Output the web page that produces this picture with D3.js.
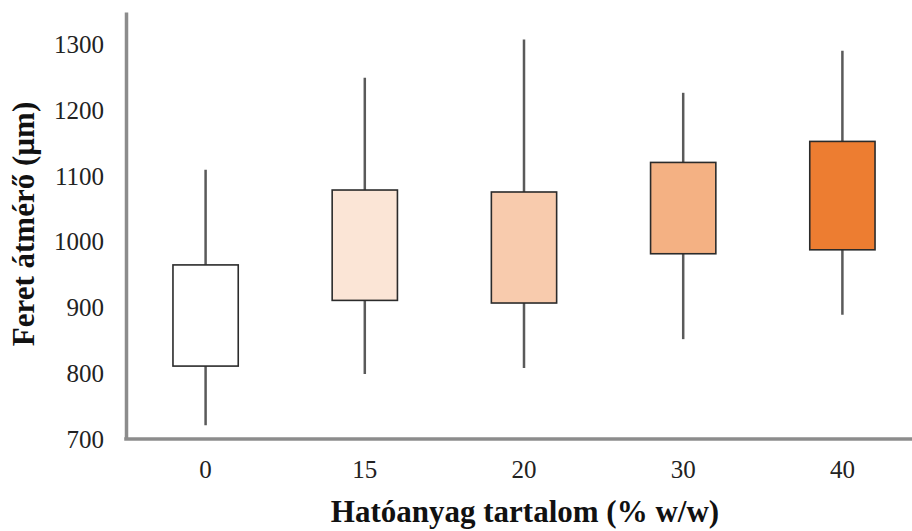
<!DOCTYPE html>
<html>
<head>
<meta charset="utf-8">
<script src="https://cdn.jsdelivr.net/npm/d3@7"></script>
<style>
  body { margin: 0; background: #fff; }
  .axis text { font-family: "Liberation Serif", "Times New Roman", serif; font-size: 25px; fill: #222; }
  .axis path { stroke: #8c8c8c; stroke-width: 3.5px; }
  .title { font-family: "Liberation Serif", "Times New Roman", serif; font-weight: bold; font-size: 31px; fill: #111; }
</style>
</head>
<body>
<svg class="canvas"></svg>
<script>
var categories = ["0", "15", "20", "30", "40"];
var whiskerLow  = [721, 799, 808, 852, 889];
var boxLow      = [811, 911, 907, 982, 988];
var boxHigh     = [965, 1079, 1076, 1121, 1153];
var whiskerHigh = [1110, 1250, 1308, 1227, 1291];
var fills = ["#ffffff", "#fbe5d6", "#f8cbad", "#f4b183", "#ed7d31"];
var yTicks = [700, 800, 900, 1000, 1100, 1200, 1300];

var width = 912;
var height = 531;

var svg = d3.select(".canvas")
  .attr("width", width)
  .attr("height", height);

var x = d3.scaleBand().domain(categories).range([126, 922]).paddingInner(0.59).paddingOuter(0.295);
var y = d3.scaleLinear().domain([700, 1350]).range([439, 12]);

var yAxis = d3.axisLeft(y).tickValues(yTicks).tickFormat(d3.format("d")).tickSize(0).tickPadding(22);
var xAxis = d3.axisBottom(x).tickSize(0).tickPadding(21);

// whiskers first, boxes drawn over them
svg.selectAll("line.whisker")
  .data(categories)
  .enter()
  .append("line")
  .attr("class", "whisker")
  .attr("x1", function(d) { return x(d) + x.bandwidth() / 2; })
  .attr("x2", function(d) { return x(d) + x.bandwidth() / 2; })
  .attr("y1", function(d, i) { return y(whiskerHigh[i]); })
  .attr("y2", function(d, i) { return y(whiskerLow[i]); })
  .attr("stroke", "#5a5a5a")
  .attr("stroke-width", 2.5);

svg.selectAll("rect.box")
  .data(categories)
  .enter()
  .append("rect")
  .attr("class", "box")
  .attr("x", function(d) { return x(d); })
  .attr("width", x.bandwidth())
  .attr("y", function(d, i) { return y(boxHigh[i]); })
  .attr("height", function(d, i) { return y(boxLow[i]) - y(boxHigh[i]); })
  .attr("fill", function(d, i) { return fills[i]; })
  .attr("stroke", "#2b2b2b")
  .attr("stroke-width", 1.6);

svg.append("g")
  .attr("class", "y axis")
  .attr("transform", "translate(126,0)")
  .call(yAxis);

svg.append("g")
  .attr("class", "x axis")
  .attr("transform", "translate(0,439)")
  .call(xAxis);

svg.select(".x.axis path").attr("d", "M124.25,0H922");

svg.append("text")
  .attr("class", "title")
  .attr("transform", "translate(34,224) rotate(-90)")
  .attr("text-anchor", "middle")
  .text("Feret átmérő (µm)");

svg.append("text")
  .attr("class", "title")
  .attr("x", 525)
  .attr("y", 522)
  .attr("text-anchor", "middle")
  .text("Hatóanyag tartalom (% w/w)");
</script>
</body>
</html>
